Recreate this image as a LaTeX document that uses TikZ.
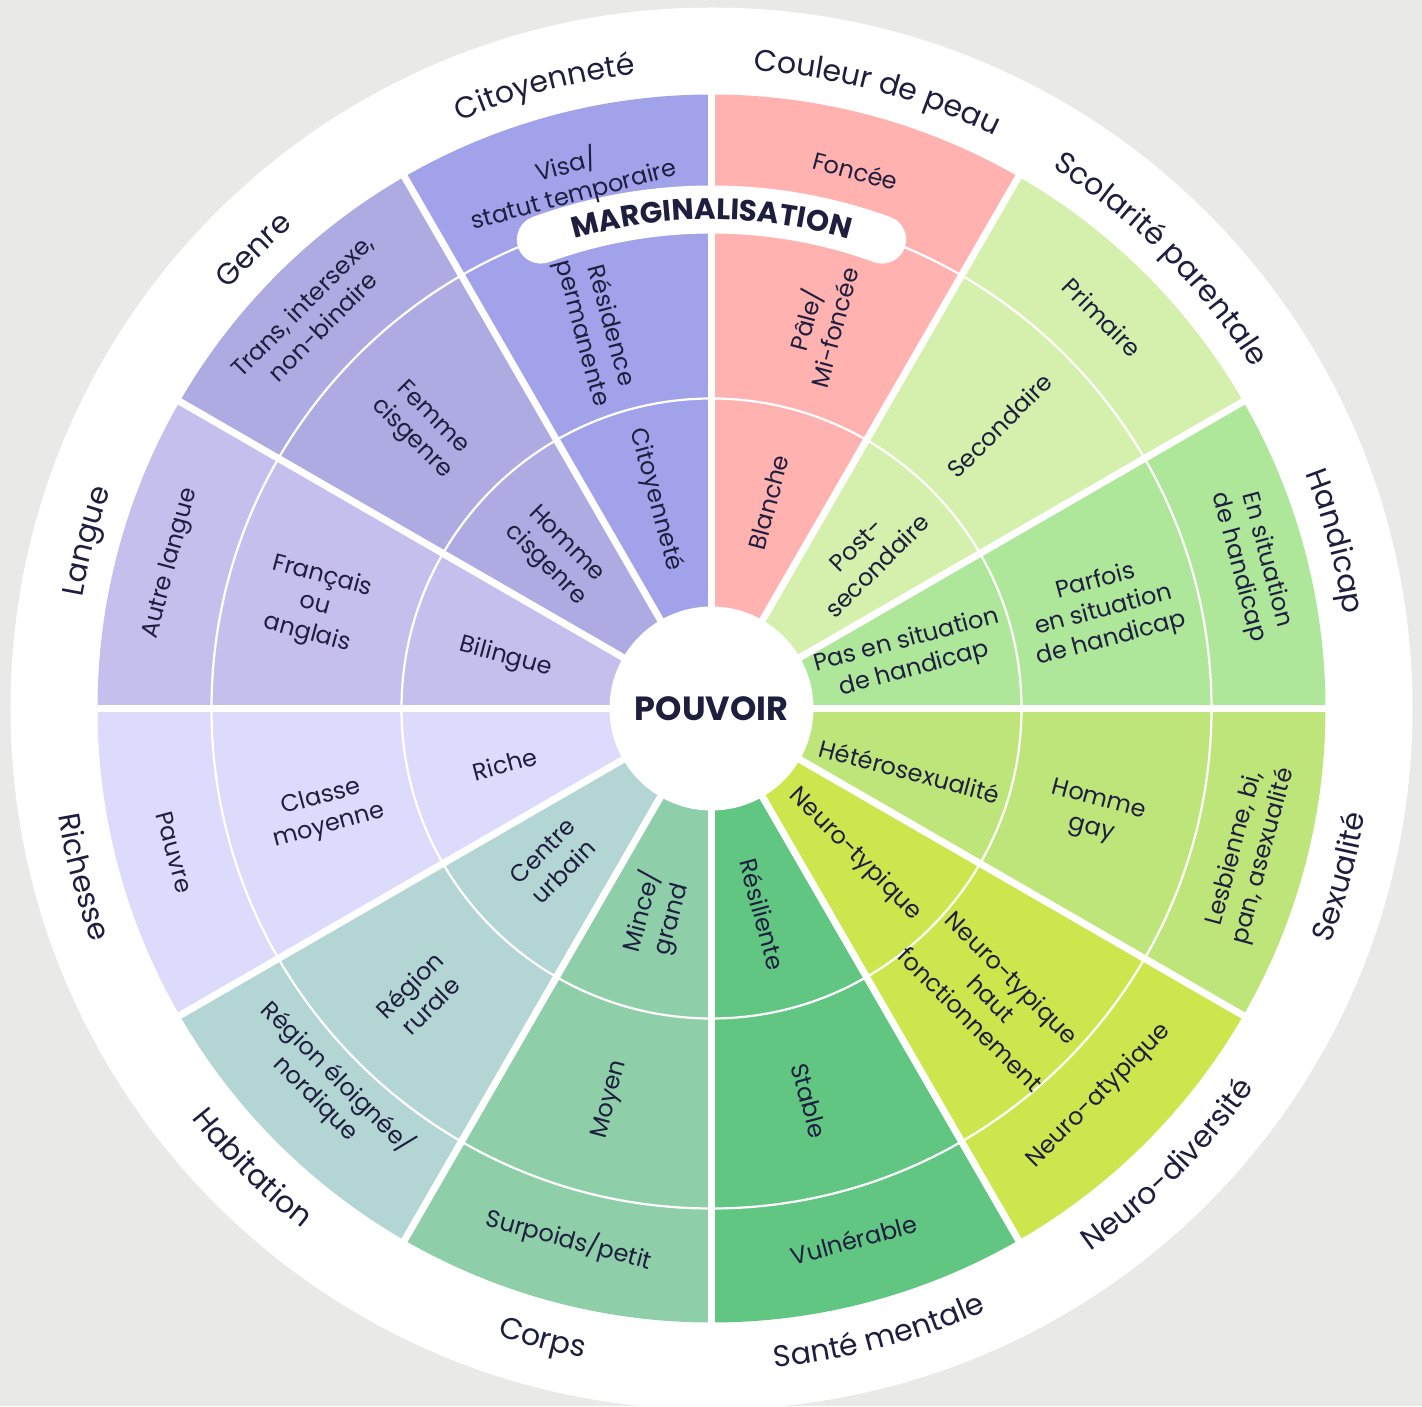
\documentclass[tikz,border=0pt]{standalone}
\usepackage{fontspec}
\setmainfont{Poppins}
\usetikzlibrary{decorations.text}
\definecolor{bg}{HTML}{E9E9E7}
\definecolor{ink}{HTML}{1E1E3F}
\definecolor{cpeau}{HTML}{FFB2B0}
\definecolor{scol}{HTML}{D5F0AC}
\definecolor{hand}{HTML}{AEE69A}
\definecolor{sexu}{HTML}{BEE57A}
\definecolor{neuro}{HTML}{CEE64E}
\definecolor{sante}{HTML}{61C681}
\definecolor{corps}{HTML}{8ECFA9}
\definecolor{habit}{HTML}{B3D5D3}
\definecolor{riche}{HTML}{DDDBFC}
\definecolor{langue}{HTML}{C5BFEE}
\definecolor{genre}{HTML}{ADABE2}
\definecolor{citoy}{HTML}{A2A2EA}
\newcommand\catfont{\fontsize{30}{36}\selectfont}
\newcommand\labfont{\fontsize{24}{29.5}\selectfont}
\newcommand\margfont{\fontsize{29.5}{34}\selectfont\bfseries}
\newcommand\toplab[3]{\path[decorate,decoration={text along path,text align=center,text color=ink,text={|\catfont|#3}}] (#1:639) arc[start angle=#1,end angle=#2,radius=639];}
\newcommand\botlab[3]{\path[decorate,decoration={text along path,text align=center,text color=ink,text={|\catfont|#3}}] (#1:662) arc[start angle=#1,end angle=#2,radius=662];}
\tikzset{
  lab/.style={text=ink,font=\labfont,align=center,inner sep=0pt},
  sepline/.style={draw=white,line width=7pt},
  ringline/.style={draw=white,line width=2.2pt},
}
\begin{document}
\begin{tikzpicture}[x=1pt,y=1pt]
\useasboundingbox (-711.5,-697.5) rectangle (710.5,708.5);
\fill[bg] (-711.5,-697.5) rectangle (710.5,708.5);
\fill[white] (0,0) circle (701);
% sectors
\foreach \a/\c in {60/cpeau,30/scol,0/hand,-30/sexu,-60/neuro,-90/sante,-120/corps,-150/habit,-180/riche,150/langue,120/genre,90/citoy}
  \fill[\c] (0,0) -- (\a:614) arc[start angle=\a,end angle=\a+30,radius=614] -- cycle;
\draw[ringline] (0,0) circle (310);
\draw[ringline] (0,0) circle (500);
\foreach \a in {0,30,...,330}
  \draw[sepline] (0,0) -- (\a:616);
\fill[white] (0,0) circle (102);
\node[text=ink,font=\fontsize{33.5}{38}\selectfont\bfseries,inner sep=0pt] (pouvoir) at (0,0) {POUVOIR};
% marginalisation band
\draw[white,line width=48pt,line cap=round] (110:499) arc[start angle=110,end angle=70,radius=499];
\path[decorate,decoration={text along path,text align=center,text color=ink,text={|\margfont|MARGINALISATION}}] (120:489) arc[start angle=120,end angle=60,radius=489];
% category labels
\toplab{115}{35}{Couleur de peau}
\toplab{85}{5}{Scolarité parentale}
\toplab{55}{-25}{Handicap}
\toplab{145}{65}{Citoyenneté}
\toplab{175}{95}{Genre}
\toplab{205}{125}{Langue}
\botlab{-55}{25}{Sexualité}
\botlab{-85}{-5}{Neuro-diversité}
\botlab{-115}{-35}{Santé mentale}
\botlab{-145}{-65}{Corps}
\botlab{-175}{-95}{Habitation}
\botlab{-205}{-125}{Richesse}
% Couleur de peau
\node[lab,rotate=-15] (foncee) at (75:557) {Foncée};
\node[lab,rotate=75] (pale) at (74.5:400) {Pâle/\\Mi-foncée};
\node[lab,rotate=75] (blanche) at (74.5:214) {Blanche};
% Scolarite
\node[lab,rotate=-45] (primaire) at (45:553) {Primaire};
\node[lab,rotate=45] (second) at (44.5:404) {Secondaire};
\node[lab,rotate=45] (postsec) at (44.5:218) {Post-\\secondaire};
% Handicap
\node[lab,rotate=-75] (ensit) at (15:560) {En situation\\de handicap};
\node[lab,rotate=15] (parfois) at (14:404) {Parfois\\en situation\\de handicap};
\node[lab,rotate=15] (pasen) at (15:206) {Pas en situation\\de handicap};
% Sexualite
\node[lab,rotate=75] (lesb) at (-15:557) {Lesbienne, bi,\\pan, asexualité};
\node[lab,rotate=-15] (gay) at (-15.5:398) {Homme\\gay};
\node[lab,rotate=-15] (hetero) at (-17.5:208) {Hétérosexualité};
% Neuro
\node[lab,rotate=45] (atyp) at (-45:548) {Neuro-atypique};
\node[lab,rotate=-45] (haut) at (-46:403) {Neuro-typique\\haut\\fonctionnement};
\node[lab,rotate=-45] (ntyp) at (-45.5:205) {Neuro-typique};
% Sante
\node[lab,rotate=15] (vuln) at (-75:550) {Vulnérable};
\node[lab,rotate=-75] (stable) at (-76:404) {Stable};
\node[lab,rotate=-75] (resil) at (-76:212) {Résiliente};
% Corps
\node[lab,rotate=-15] (surp) at (-105:550) {Surpoids/petit};
\node[lab,rotate=75] (moyen) at (-104.5:404) {Moyen};
\node[lab,rotate=75] (mince) at (-105:214) {Mince/\\grand};
% Habitation
\node[lab,rotate=-45] (eloig) at (-135.4:540) {Région éloignée/\\nordique};
\node[lab,rotate=45] (rurale) at (-135.5:409) {Région\\rurale};
\node[lab,rotate=45] (urbain) at (-136:220) {Centre\\urbain};
% Richesse
\node[lab,rotate=-75] (pauvre) at (-165:556) {Pauvre};
\node[lab,rotate=15] (classe) at (-165:400) {Classe\\moyenne};
\node[lab,rotate=15] (richel) at (-165:214) {Riche};
% Langue
\node[lab,rotate=75] (autre) at (165:560) {Autre langue};
\node[lab,rotate=-15] (franc) at (165.4:410) {Français\\ou\\anglais};
\node[lab,rotate=-15] (bil) at (166:212) {Bilingue};
% Genre
\node[lab,rotate=45] (trans) at (135.5:560) {Trans, intersexe,\\non-binaire};
\node[lab,rotate=-45] (femme) at (136:403) {Femme\\cisgenre};
\node[lab,rotate=-45] (homme) at (135.5:219) {Homme\\cisgenre};
% Citoyennete
\node[lab,rotate=15] (visa) at (105:547) {Visa/\\statut temporaire};
\node[lab,rotate=-75] (resid) at (107:396) {Résidence\\permanente};
\node[lab,rotate=-75] (citoyl) at (105:216) {Citoyenneté};
\end{tikzpicture}
\end{document}
